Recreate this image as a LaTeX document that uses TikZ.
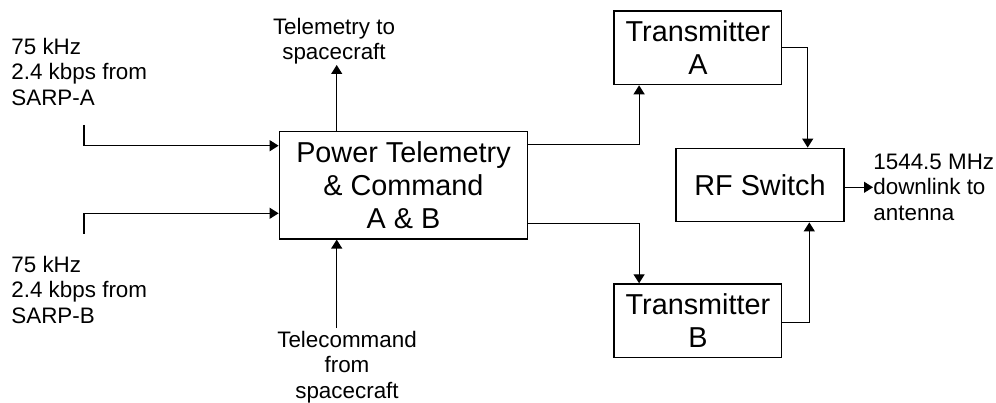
\documentclass[tikz,border=0pt]{standalone}
\usepackage{fontspec}
\setmainfont{Liberation Sans}
\usetikzlibrary{arrows.meta}

\begin{document}
\begin{tikzpicture}[x=0.5pt,y=0.5pt,
	block/.style={draw,line width=0.7pt,align=center,inner sep=0pt,
		font=\fontsize{14.4}{16.5}\selectfont},
	note/.style={align=center,inner sep=0pt,font=\fontsize{11.2}{12.8}\selectfont},
	arr/.style={-{Triangle[length=4.5pt,width=5.5pt]},line width=0.6pt}]
	\useasboundingbox (0,0) rectangle (996,402);
	
	% draw the blocks
	\node[block,minimum width=124.2pt,minimum height=53.6pt] (ptc) at (403.5,216.7) {Power Telemetry\\ \& Command\\ A \& B};
	\node[block,minimum width=83.8pt,minimum height=36.8pt] (txa) at (697.9,354.2) {Transmitter\\ A};
	\node[block,minimum width=83.8pt,minimum height=36.8pt] (txb) at (697.9,81.2) {Transmitter\\ B};
	\node[block,minimum width=84pt,minimum height=36.7pt] (rfs) at (760,217) {RF Switch};
	
	% draw the labels
	\node[note,align=left,anchor=north west] (sarpa) at (11,364.5) {75 kHz\\ 2.4 kbps from\\ SARP-A};
	\node[note,align=left,anchor=north west] (sarpb) at (11,146.5) {75 kHz\\ 2.4 kbps from\\ SARP-B};
	\node[note,anchor=south] (tlm) at (334,337) {Telemetry to\\ spacecraft};
	\node[note,anchor=north,outer sep=1.5pt] (tcm) at (347,74) {Telecommand\\ from\\ spacecraft};
	\node[note,align=left,anchor=west] (dl) at (873,214.7) {1544.5 MHz\\ downlink to\\ antenna};
	
	% draw the connections
	\coordinate (ina) at (84,277);
	\coordinate (inb) at (84,168);
	\coordinate (tmup) at ([xshift=-33.4pt]ptc.north);
	\coordinate (tmdn) at ([xshift=-33.4pt]ptc.south);
	\draw[arr] (ina) |- ([yshift=19.8pt]ptc.west);
	\draw[arr] (inb) |- ([yshift=-14pt]ptc.west);
	\draw[arr] (tmup) -- (tmup |- tlm.south);
	\draw[arr] (tmdn |- tcm.north) -- (tmdn);
	\draw[arr] ([yshift=20.2pt]ptc.east) -| ([xshift=-29.4pt]txa.south);
	\draw[arr] ([yshift=-19pt]ptc.east) -| ([xshift=-29.4pt]txb.north);
	\draw[arr] (txa.east) -| ([xshift=23.85pt]rfs.north);
	\draw[arr] ([yshift=-0.9pt]txb.east) -| ([xshift=24.65pt]rfs.south);
	\draw[arr] (rfs.east |- dl.west) -- (dl.west);
\end{tikzpicture}
\end{document}
